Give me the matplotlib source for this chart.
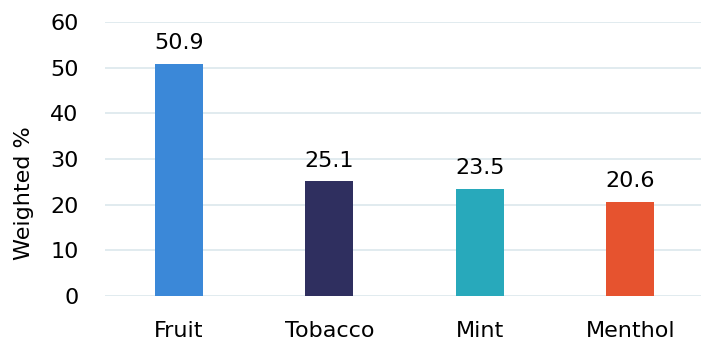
import matplotlib.pyplot as plt

categories = ['Fruit', 'Tobacco', 'Mint', 'Menthol']
values = [50.9, 25.1, 23.5, 20.6]
colors = ['#3b88d8', '#2f2f5f', '#28a9bb', '#e6532f']

fig = plt.figure(figsize=(7.01, 3.44), dpi=100)
ax = fig.add_axes([0.150, 0.139, 0.850, 0.797])

x = range(len(categories))
bars = ax.bar(x, values, width=0.32, color=colors, zorder=3)

# value labels above each bar
for xi, v in zip(x, values):
    ax.annotate(f'{v:.1f}', (xi, v), xytext=(0, 10.5), textcoords='offset points',
                ha='center', va='baseline', fontsize=16, color='black')

ax.set_ylim(0, 60)
ax.set_xlim(-0.49, 3.47)
ax.set_yticks(range(0, 61, 10))
ax.set_xticks(list(x))
ax.set_xticklabels(categories, fontsize=16)
ax.tick_params(axis='y', labelsize=16, length=0, pad=19)
ax.tick_params(axis='x', length=0, pad=18)
ax.set_ylabel('Weighted %', fontsize=16)
ax.yaxis.set_label_coords(-0.12, 0.376)

ax.yaxis.grid(True, color='#dce8ec', linewidth=1.2, zorder=0)
for side in ['top', 'right', 'left', 'bottom']:
    ax.spines[side].set_visible(False)

fig.savefig('out.png', dpi=100)
